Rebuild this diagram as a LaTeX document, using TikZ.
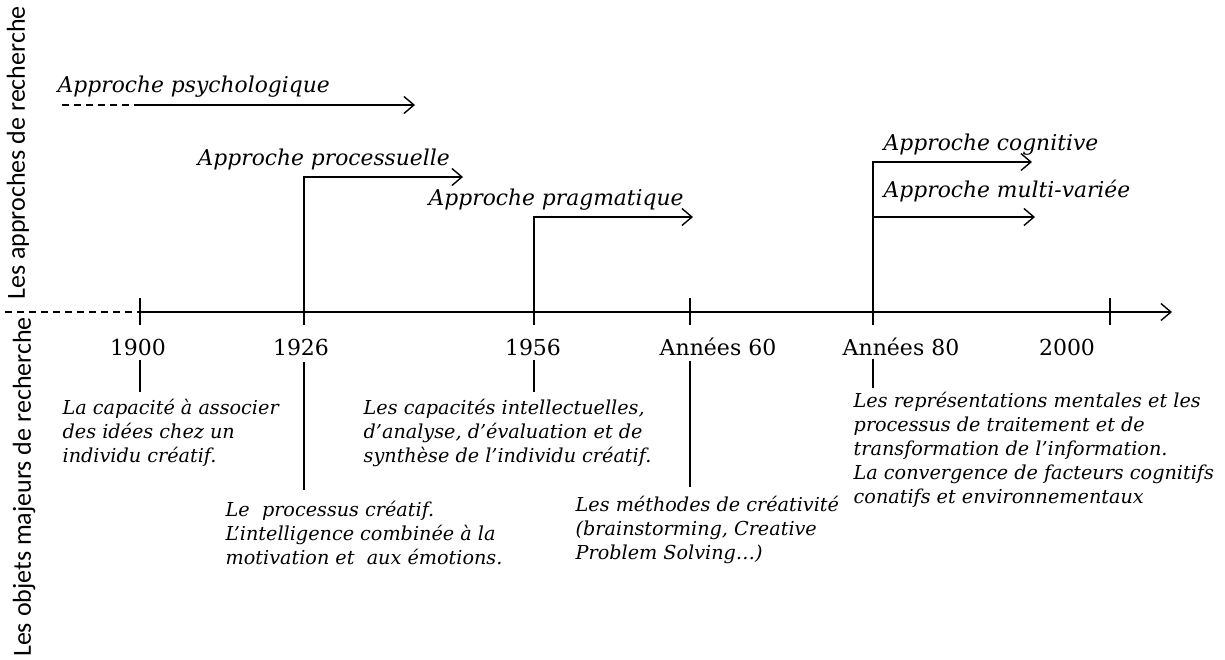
\documentclass[tikz,border=0pt]{standalone}
\usepackage{fontspec}
\setmainfont{DejaVu Serif}
\newfontfamily\sidefont{Carlito}
\usetikzlibrary{arrows.meta}

\begin{document}
\begin{tikzpicture}[x=1pt, y=-1pt, line width=1.4pt,
    >={Straight Barb[length=10pt,width=17pt]},
    approach/.style={anchor=base west, inner sep=0pt, font=\fontsize{21.8}{24}\selectfont\itshape},
    yearlab/.style={inner sep=0pt, font=\fontsize{22}{24}\selectfont},
    descr/.style={anchor=north west, align=left, inner sep=0pt, font=\fontsize{19.2}{24}\selectfont\itshape},
    sidelab/.style={rotate=90, inner sep=0pt, font=\sidefont\fontsize{26}{30}\selectfont},
    dashline/.style={dash pattern=on 7pt off 5pt}]
    \useasboundingbox (0,0) rectangle (1225,659);
    % time axis
    \coordinate (axstart) at (5,312);
    \coordinate (t1900) at (140,312);
    \coordinate (t1926) at (304,312);
    \coordinate (t1956) at (534,312);
    \coordinate (t60) at (690,312);
    \coordinate (t80) at (873,312);
    \coordinate (t2000) at (1110,312);
    \coordinate (axend) at (1172,312);
    \draw[dashline] (axstart) -- (t1900);
    \draw[->] (t1900) -- (axend);
    \foreach \t in {t1900,t1926,t1956,t60,t80,t2000}
        \draw (\t) -- ([yshift=-13pt]\t);
    \foreach \t in {t1900,t60,t2000}
        \draw (\t) -- ([yshift=14pt]\t);
    % years
    \node[yearlab] (y1900) at (138,347) {1900};
    \node[yearlab] (y1926) at (301,347) {1926};
    \node[yearlab] (y1956) at (533,347) {1956};
    \node[yearlab] (y60) at (718,347) {Années 60};
    \node[yearlab] (y80) at (901,347) {Années 80};
    \node[yearlab] (y2000) at (1067,347) {2000};
    % approaches
    \coordinate (ps0) at (62,105);
    \coordinate (ps1) at (135,105);
    \coordinate (ps2) at (415,105);
    \draw[dashline] (ps0) -- (ps1);
    \draw[->] (ps1) -- (ps2);
    \node[approach] (apsy) at (57,92) {Approche psychologique};
    \coordinate (epro) at (463,177);
    \draw[->] (t1926) |- (epro);
    \node[approach] (apro) at (197,165) {Approche processuelle};
    \coordinate (epra) at (693,217);
    \draw[->] (t1956) |- (epra);
    \node[approach] (apra) at (428,205) {Approche pragmatique};
    \coordinate (ecog) at (1032,162);
    \draw[->] (t80) |- (ecog);
    \node[approach] (acog) at (883,150) {Approche cognitive};
    \coordinate (smul) at (873,217);
    \coordinate (emul) at (1035,217);
    \draw[->] (smul) -- (emul);
    \node[approach] (amul) at (883,197) {Approche multi-variée};
    % research objects
    \node[descr] (d1900) at (62,398) {La capacité à associer\\des idées chez un\\individu créatif.};
    \node[descr] (d1926) at (225,500) {Le\ \ processus créatif.\\L’intelligence combinée à la\\motivation et\ \ aux émotions.};
    \node[descr] (d1956) at (363,398) {Les capacités intellectuelles,\\d’analyse, d’évaluation et de\\synthèse de l’individu créatif.};
    \node[descr] (d60) at (575,495) {Les méthodes de créativité\\(brainstorming, Creative\\Problem Solving…)};
    \node[descr] (d80) at (853,391) {Les représentations mentales et les\\processus de traitement et de\\transformation de l’information.\\La convergence de facteurs cognitifs\\conatifs et environnementaux};
    \draw ([yshift=-4pt]t1900 |- y1900.south) -- ([yshift=6pt]t1900 |- d1900.north);
    \draw ([yshift=-6pt]t1926 |- y1926.south) -- ([yshift=10pt]t1926 |- d1926.north);
    \draw ([yshift=-4pt]t1956 |- y1956.south) -- ([yshift=6pt]t1956 |- d1956.north);
    \draw ([yshift=-4pt]t60 |- y60.south) -- ([yshift=8pt]t60 |- d60.north);
    \draw ([yshift=-2pt]t80 |- y80.south) -- ([yshift=3pt]t80 |- d80.north);
    % side titles
    \node[sidelab] (sapp) at (18,153) {Les approches de recherche};
    \node[sidelab] (sobj) at (24,487) {Les objets majeurs de recherche};
\end{tikzpicture}
\end{document}
